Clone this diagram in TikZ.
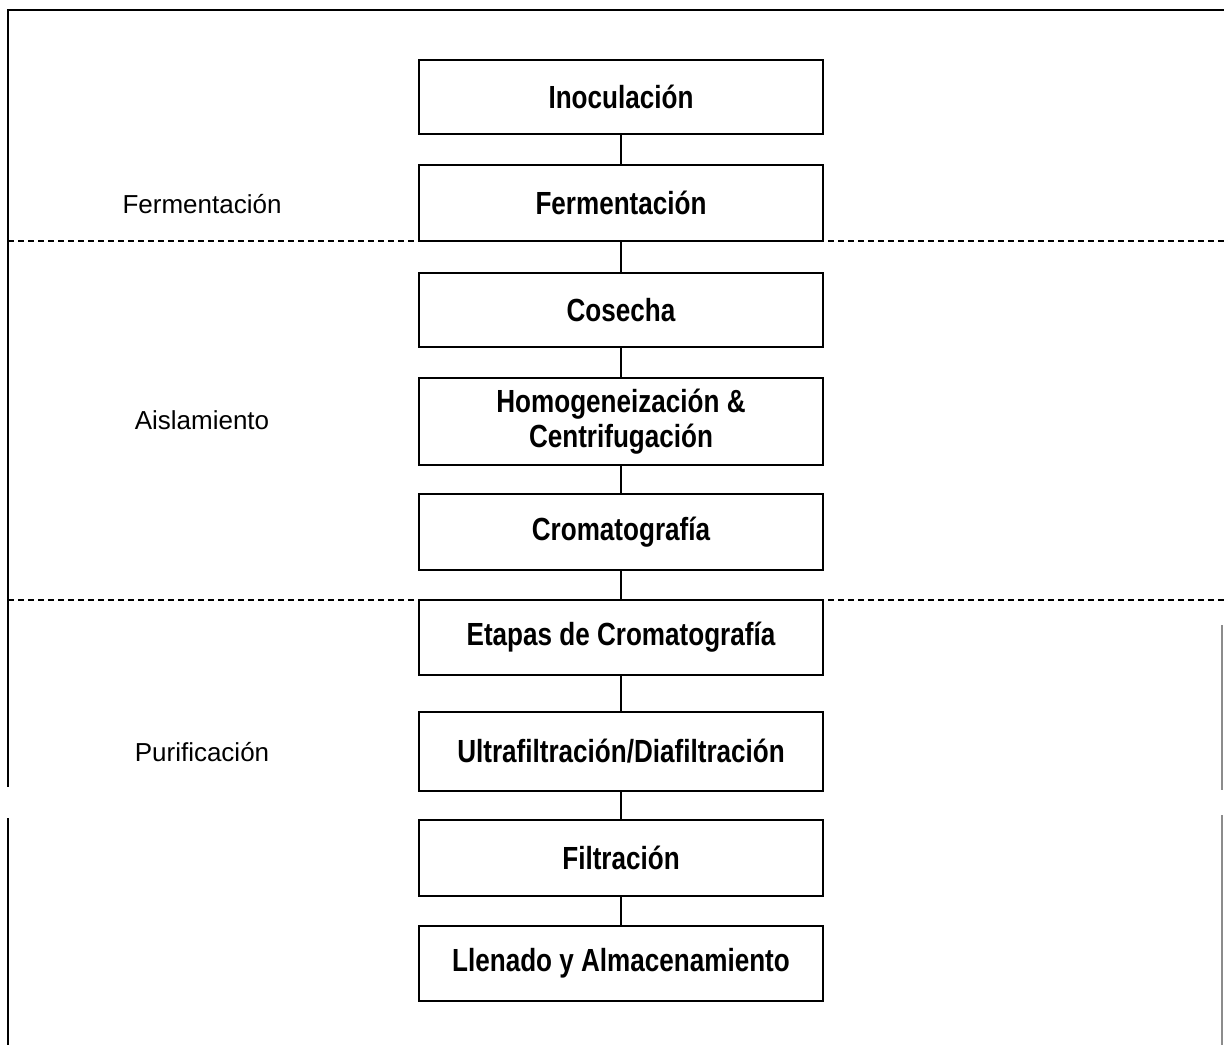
\documentclass[tikz,border=0pt]{standalone}
\usepackage{fontspec}
\setmainfont{Liberation Sans}
\newfontfamily\boxfont[FakeStretch=0.815]{Liberation Sans}
\begin{document}
\begin{tikzpicture}[x=0.5pt,y=-0.5pt,
  stepbox/.style={draw=black,line width=1pt,minimum width=202pt,inner sep=0pt,align=center,
    font=\boxfont\bfseries\fontsize{16}{17.5}\selectfont},
  phase/.style={font=\fontsize{13}{15}\selectfont},
  link/.style={draw=black,line width=0.6pt},
  sep/.style={draw=black,line width=0.8pt,dash pattern=on 3pt off 2pt},
  frame/.style={draw=black,line width=1pt},
  faint/.style={draw=black!45,line width=0.6pt}]
\useasboundingbox (0,0) rectangle (1224,1045);
% frame
\coordinate (tl) at (8,10);
\coordinate (tr) at (1224,10);
\coordinate (lg1) at (8,787);
\coordinate (lg2) at (8,818);
\coordinate (lb) at (8,1045);
\coordinate (rg0) at (1222,625);
\coordinate (rg1) at (1222,790);
\coordinate (rg2) at (1222,815);
\coordinate (rb) at (1222,1045);
\draw[frame] (tr) -- (tl) -- (lg1);
\draw[frame] (lg2) -- (lb);
\draw[faint] (rg0) -- (rg1);
\draw[faint] (rg2) -- (rb);
% boxes
\node[stepbox,minimum height=37pt] (b1) at (621,97) {Inoculación};
\node[stepbox,minimum height=38pt] (b2) at (621,203) {Fermentación};
\node[stepbox,minimum height=37pt] (b3) at (621,310) {Cosecha};
\node[stepbox,minimum height=43.5pt] (b4) at (621,421.5) {Homogeneización \&\\Centrifugación};
\node[stepbox,minimum height=38pt] (b5) at (621,532) {Cromatografía};
\node[stepbox,minimum height=37.5pt] (b6) at (621,637.5) {Etapas de Cromatografía};
\node[stepbox,minimum height=39.5pt] (b7) at (621,751.5) {Ultrafiltración/Diafiltración};
\node[stepbox,minimum height=38pt] (b8) at (621,858) {Filtración};
\node[stepbox,minimum height=37.5pt] (b9) at (621,963.5) {Llenado y Almacenamiento};
% connectors
\draw[link] (b1.south) -- (b2.north);
\draw[link] (b2.south) -- (b3.north);
\draw[link] (b3.south) -- (b4.north);
\draw[link] (b4.south) -- (b5.north);
\draw[link] (b5.south) -- (b6.north);
\draw[link] (b6.south) -- (b7.north);
\draw[link] (b7.south) -- (b8.north);
\draw[link] (b8.south) -- (b9.north);
% separators
\coordinate (s1a) at (8,241);
\coordinate (s1b) at (1224,241);
\coordinate (s2a) at (8,600);
\coordinate (s2b) at (1224,600);
\draw[sep] (s1a) -- (s1b);
\draw[sep] (s2a) -- (s2b);
% phase labels
\node[phase] (p1) at (202,204) {Fermentación};
\node[phase] (p2) at (202,420) {Aislamiento};
\node[phase] (p3) at (202,752) {Purificación};
\end{tikzpicture}
\end{document}
